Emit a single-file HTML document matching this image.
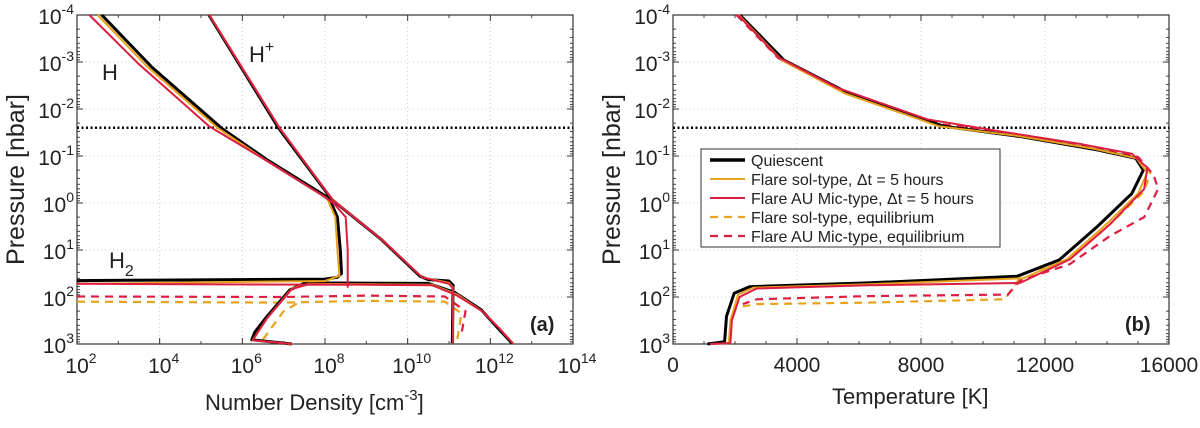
<!DOCTYPE html>
<html><head><meta charset="utf-8"><style>
body{margin:0;background:#fff;width:1200px;height:423px;overflow:hidden}
svg text{font-family:"Liberation Sans",sans-serif;fill:#222}
</style></head><body>
<svg id="fig" width="1200" height="423" viewBox="0 0 1200 423"></svg>
<script>
// ---- data: panel a (log10 number density, log10 pressure) ----
const aQuiescentH=[[2.6,-4],[3.8,-2.9],[5.5,-1.59],[6.6,-0.92],[8.1,-0.1],[8.3,0.3],[8.37,1.0],[8.4,1.5],[8.3,1.58],[8.0,1.62],[4,1.64],[2,1.65]];
const aQuiescentHp=[[5.19,-4],[6.88,-1.59],[8.17,-0.07],[9.37,0.78],[10.3,1.56],[10.5,1.63],[11.0,1.66],[11.1,1.75],[11.08,2.98]];
const aQuiescentH2=[[7.2,3.0],[6.23,2.91],[6.3,2.75],[6.6,2.41],[7.15,1.85],[7.52,1.7],[10.5,1.71],[11.13,1.9],[11.78,2.27],[12.15,2.63],[12.52,2.98]];
const aSolH=[[2.5,-4],[3.7,-2.9],[5.4,-1.6],[6.5,-0.95],[8.05,-0.1],[8.25,0.3],[8.3,1.0],[8.35,1.55],[8.0,1.66],[2,1.72]];
const aSolHp=[[5.2,-4],[6.9,-1.6],[8.18,-0.07],[9.4,0.8],[10.35,1.58],[11.0,1.7],[11.1,1.8],[11.1,2.98]];
const aSolH2=[[7.2,3.0],[6.25,2.92],[6.6,2.45],[7.2,1.82],[7.6,1.72],[10.6,1.74],[11.2,1.95],[11.8,2.3],[12.2,2.65],[12.55,2.99]];
const aMicH=[[2.3,-4],[3.5,-2.95],[5.2,-1.63],[6.4,-1.0],[7.9,-0.18],[8.2,0.0],[8.5,0.3],[8.55,1.0],[8.55,1.8]];
const aMicHp=[[5.2,-4],[6.9,-1.6],[8.2,-0.05],[9.4,0.8],[10.35,1.58],[11.0,1.72],[11.1,1.82],[11.1,2.98]];
const aMicH2=[[7.2,3.0],[6.25,2.92],[6.6,2.45],[7.2,1.83],[7.6,1.73],[10.6,1.75],[11.2,1.97],[11.8,2.3],[12.2,2.65],[12.55,2.99]];
const aMicFlat=[[2,1.72],[8.6,1.74]];
const aSolEq=[[2,2.1],[7.0,2.12],[9.0,2.08],[10.9,2.1],[11.3,2.35],[11.2,2.9]];
const aMicEq=[[2,1.99],[7.0,2.0],[9.0,1.97],[10.9,1.99],[11.4,2.3],[11.3,2.8]];
const aSolEqLow=[[6.5,2.9],[7.0,2.3],[7.4,2.1]];
// ---- data: panel b (temperature K, log10 pressure) ----
const bQuiescent=[[2159,-4],[3578,-3.04],[5675,-2.33],[8759,-1.63],[11226,-1.41],[13690,-1.13],[14930,-0.95],[15170,-0.7],[14800,-0.2],[13690,0.5],[12460,1.21],[11100,1.56],[6290,1.7],[2467,1.78],[1974,1.92],[1727,2.41],[1665,2.95],[1110,3]];
const bSol=[[2130,-4],[3500,-3.04],[5550,-2.33],[8600,-1.63],[11100,-1.43],[13600,-1.15],[14950,-0.95],[15300,-0.65],[15000,-0.2],[13900,0.5],[12700,1.2],[11300,1.6],[6290,1.73],[2600,1.8],[2100,1.95],[1850,2.5],[1800,2.98],[1200,3]];
const bMic=[[2100,-4],[3400,-3.1],[5300,-2.45],[8200,-1.78],[10600,-1.52],[13200,-1.25],[14800,-1.05],[15300,-0.75],[15200,-0.3],[14100,0.45],[12800,1.2],[11200,1.7],[6290,1.75],[2700,1.82],[2150,2.0],[1900,2.5],[1850,2.98],[1200,3]];
const bSolEq=[[2100,-4],[3450,-3.06],[5450,-2.38],[8450,-1.68],[10900,-1.46],[13450,-1.18],[14950,-0.98],[15400,-0.65],[15200,-0.25],[14100,0.45],[12800,1.2],[11300,1.5],[10700,2.05],[6290,2.12],[2700,2.15],[2250,2.2]];
const bMicEq=[[2050,-4],[3400,-3.08],[5400,-2.4],[8400,-1.7],[10800,-1.49],[13400,-1.2],[15000,-0.98],[15500,-0.6],[15650,-0.3],[15200,0.3],[14100,0.7],[12800,1.3],[11200,1.65],[10800,1.95],[6290,1.98],[2700,2.05],[2250,2.15]];
const aXTicks=[2,4,6,8,10,12,14];
const bXTicks=[0,4000,8000,12000,16000];
const yTicks=[-4,-3,-2,-1,0,1,2,3];

const NS="http://www.w3.org/2000/svg";
const svg=document.getElementById('fig');
function mk(tag,attrs,parent){const e=document.createElementNS(NS,tag);for(const k in attrs)e.setAttribute(k,attrs[k]);(parent||svg).appendChild(e);return e;}
const T=15,B=344;
const A={l:77,r:573,x0:2,x1:14}, Bp={l:673,r:1169,x0:0,x1:16000};
function sy(v){return T+(v+4)/7*(B-T);}
function sxA(v){return A.l+(v-A.x0)/(A.x1-A.x0)*(A.r-A.l);}
function sxB(v){return Bp.l+(v-Bp.x0)/(Bp.x1-Bp.x0)*(Bp.r-Bp.l);}
function sup(base,exp,x,y,anchor,parent){
  const e=mk('text',{x:x,y:y,'text-anchor':anchor,'font-size':21},parent);
  e.textContent=base;
  const s=mk('tspan',{dy:-10,'font-size':14},e);s.textContent=exp;
  return e;
}
function axes(P,sx,xt,isLog,name){
  const g=mk('g',{});
  
  
  xt.forEach(v=>{const x=sx(v);mk('line',{x1:x,x2:x,y1:T,y2:B,stroke:'#ccc','stroke-dasharray':'1,3','stroke-width':1},g);});
  yTicks.forEach(v=>{const y=sy(v);mk('line',{x1:P.l,x2:P.r,y1:y,y2:y,stroke:'#ccc','stroke-dasharray':'1,3','stroke-width':1},g);});
  if(isLog){for(let d=2;d<14;d+=2){const x=sx(d+1);mk('line',{x1:x,x2:x,y1:B,y2:B-3,stroke:'#444'},g);mk('line',{x1:x,x2:x,y1:T,y2:T+3,stroke:'#444'},g);}}
  else{for(let v=1000;v<16000;v+=1000){const x=sx(v);mk('line',{x1:x,x2:x,y1:B,y2:B-3,stroke:'#444'},g);mk('line',{x1:x,x2:x,y1:T,y2:T+3,stroke:'#444'},g);}}
  for(let d=-4;d<3;d++)for(let m=2;m<10;m++){const y=sy(d+Math.log10(m));mk('line',{x1:P.l,x2:P.l+3,y1:y,y2:y,stroke:'#444'},g);mk('line',{x1:P.r,x2:P.r-3,y1:y,y2:y,stroke:'#444'},g);}
  xt.forEach(v=>{const x=sx(v);mk('line',{x1:x,x2:x,y1:B,y2:B-6,stroke:'#333'},g);mk('line',{x1:x,x2:x,y1:T,y2:T+6,stroke:'#333'},g);
    if(isLog){sup('10',String(v),x+4,B+29,'middle',g);}
    else{const t=mk('text',{x:x,y:B+28,'text-anchor':'middle','font-size':21},g);t.textContent=String(v);}});
  yTicks.forEach(v=>{const y=sy(v);mk('line',{x1:P.l,x2:P.l+6,y1:y,y2:y,stroke:'#333'},g);mk('line',{x1:P.r,x2:P.r-6,y1:y,y2:y,stroke:'#333'},g);
    sup('10',String(v),P.l-3,y+9,'end',g);});
  mk('rect',{x:P.l,y:T,width:P.r-P.l,height:B-T,fill:'none',stroke:'#333','stroke-width':1.2},g);
  const yd=sy(-1.6);
  const dl=mk('line',{x1:P.l,x2:P.r,y1:yd,y2:yd,stroke:'#000','stroke-width':2.5,'stroke-dasharray':'2,2.5'});
  
  
  const yl=mk('text',{x:0,y:0,'font-size':25,'text-anchor':'middle',transform:`translate(${P.l-53},${(T+B)/2}) rotate(-90)`});
  yl.textContent='Pressure [nbar]';
  
  
}
function line(data,sx,color,w,dash,name){
  const p=mk('polyline',{points:data.map(d=>sx(d[0]).toFixed(1)+','+sy(d[1]).toFixed(1)).join(' '),fill:'none',stroke:color,'stroke-width':w,'stroke-linejoin':'round'});
  if(dash)p.setAttribute('stroke-dasharray',dash);
  
  
}
const BLK='#000',ORA='#E8A21E',RED='#DC1E42';
axes(A,sxA,aXTicks,true,'panel-a');
axes(Bp,sxB,bXTicks,false,'panel-b');
line(aSolEq,sxA,ORA,2.2,'8,6','a-sol-equilibrium');
line(aSolEqLow,sxA,ORA,2.2,'8,6','a-sol-equilibrium-low');
line(aMicEq,sxA,RED,2.2,'8,6','a-mic-equilibrium');
line(aQuiescentH,sxA,BLK,3,null,'a-quiescent-h');
line(aQuiescentHp,sxA,BLK,3,null,'a-quiescent-hplus');
line(aQuiescentH2,sxA,BLK,3,null,'a-quiescent-h2');
line(aSolH,sxA,ORA,2,null,'a-sol-h');
line(aSolHp,sxA,ORA,2,null,'a-sol-hplus');
line(aSolH2,sxA,ORA,2,null,'a-sol-h2');
line(aMicH,sxA,RED,2,null,'a-mic-h');
line(aMicHp,sxA,RED,2,null,'a-mic-hplus');
line(aMicH2,sxA,RED,2,null,'a-mic-h2');
line(aMicFlat,sxA,RED,2,null,'a-mic-flat');
line(bSolEq,sxB,ORA,2.2,'8,6','b-sol-equilibrium');
line(bMicEq,sxB,RED,2.2,'8,6','b-mic-equilibrium');
line(bQuiescent,sxB,BLK,3,null,'b-quiescent');
line(bSol,sxB,ORA,2,null,'b-sol');
line(bMic,sxB,RED,2,null,'b-mic');
function txt(s,x,y,size,name,extra){const t=mk('text',Object.assign({x:x,y:y,'font-size':size},extra||{}));t.textContent=s;return t;}
txt('H',102,80,22,'label-h');
const hp=txt('H',249,62,22,'label-hplus');const hs=mk('tspan',{dy:-10,'font-size':16},hp);hs.textContent='+';
const h2=txt('H',109,268,22,'label-h2');const h2s=mk('tspan',{dy:8,'font-size':16},h2);h2s.textContent='2';
txt('(a)',530,331,20,'panel-a-label',{'font-weight':'bold'});
txt('(b)',1125,331,20,'panel-b-label',{'font-weight':'bold'});
const xa=txt('Number Density [cm',205,410,22,'x-axis-title-a');const xs=mk('tspan',{dy:-10,'font-size':15},xa);xs.textContent='-3';const xe=mk('tspan',{dy:10},xa);xe.textContent=']';
txt('Temperature [K]',832,404,22,'x-axis-title-b');
const lg=mk('g',{});


mk('rect',{x:701,y:149,width:299,height:98,fill:'#fff',stroke:'#333','stroke-width':1},lg);
const items=[['Quiescent',BLK,3.5,null],['Flare sol-type,  \u0394t = 5 hours',ORA,2,null],['Flare AU Mic-type,  \u0394t = 5 hours',RED,2,null],['Flare sol-type, equilibrium',ORA,2.2,'8,6'],['Flare AU Mic-type, equilibrium',RED,2.2,'8,6']];
items.forEach((it,i)=>{const y=160+i*19;
  const l=mk('line',{x1:710,x2:745,y1:y,y2:y,stroke:it[1],'stroke-width':it[2]},lg);if(it[3])l.setAttribute('stroke-dasharray',it[3]);
  const t=mk('text',{x:751,y:y+6,'font-size':16},lg);t.textContent=it[0];
  
  });
</script>
</body></html>
